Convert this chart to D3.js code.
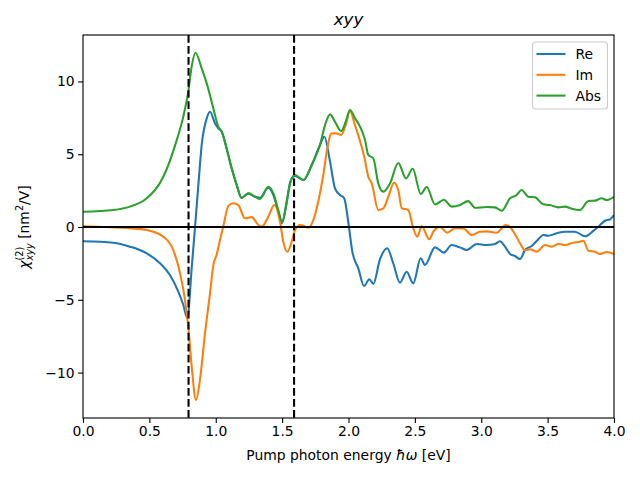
<!DOCTYPE html>
<html>
<head>
<meta charset="utf-8">
<script src="https://cdn.jsdelivr.net/npm/d3@7"></script>
<style>
  body { margin: 0; background: #fff; }
  svg { display: block; }
</style>
</head>
<body>
<div id="chart"></div>
<script>
// chi^(2)_xyy spectrum, values
const reEnergy = [0, 0.228, 0.354, 0.48, 0.58, 0.655, 0.718, 0.756, 0.786, 0.819, 0.844, 0.869, 0.894, 0.932, 0.957, 0.994, 1.019, 1.045, 1.082, 1.12, 1.158, 1.195, 1.245, 1.296, 1.333, 1.396, 1.434, 1.471, 1.497, 1.527, 1.559, 1.584, 1.597, 1.66, 1.723, 1.785, 1.818, 1.861, 1.898, 1.936, 1.968, 1.998, 2.029, 2.074, 2.117, 2.157, 2.187, 2.237, 2.292, 2.337, 2.388, 2.438, 2.488, 2.544, 2.576, 2.652, 2.719, 2.777, 2.84, 2.89, 2.966, 3.041, 3.104, 3.141, 3.179, 3.217, 3.254, 3.292, 3.33, 3.38, 3.43, 3.467, 3.505, 3.568, 3.631, 3.706, 3.782, 3.844, 3.895, 3.932, 3.97, 4.0];
const reValues = [-0.98, -1.08, -1.35, -1.81, -2.49, -3.3, -4.44, -5.36, -6.27, -2.8, 0.0, 2.88, 5.63, 7.47, 7.92, 7.12, 6.78, 6.55, 5.4, 4.03, 2.88, 2.0, 2.31, 2.08, 2.0, 2.7, 2.2, 1.05, 0.25, 1.28, 3.0, 3.45, 3.5, 3.23, 4.26, 5.63, 6.2, 4.49, 2.66, 2.2, 1.97, 0.36, -1.7, -2.84, -4.05, -3.59, -3.91, -2.22, -1.46, -2.49, -3.82, -3.07, -3.87, -2.15, -2.6, -1.4, -1.76, -1.24, -1.4, -1.58, -1.17, -1.24, -1.17, -0.98, -1.35, -1.85, -1.99, -2.2, -1.58, -1.3, -0.84, -0.55, -0.6, -0.43, -0.32, -0.32, -0.64, -0.27, 0.14, 0.43, 0.53, 0.82];

const imEnergy = [0, 0.354, 0.48, 0.605, 0.68, 0.731, 0.768, 0.793, 0.819, 0.851, 0.881, 0.919, 0.957, 0.982, 1.007, 1.032, 1.057, 1.095, 1.132, 1.17, 1.22, 1.271, 1.321, 1.346, 1.396, 1.441, 1.484, 1.509, 1.539, 1.572, 1.597, 1.635, 1.66, 1.697, 1.735, 1.772, 1.81, 1.836, 1.873, 1.911, 1.944, 1.979, 2.011, 2.049, 2.087, 2.124, 2.149, 2.175, 2.224, 2.262, 2.3, 2.343, 2.375, 2.401, 2.45, 2.488, 2.518, 2.551, 2.609, 2.639, 2.689, 2.744, 2.802, 2.865, 2.928, 2.991, 3.041, 3.116, 3.184, 3.217, 3.254, 3.292, 3.33, 3.367, 3.418, 3.48, 3.531, 3.581, 3.631, 3.693, 3.744, 3.769, 3.807, 3.857, 3.895, 3.945, 4.0];
const imValues = [0.05, -0.09, -0.2, -0.66, -1.58, -3.18, -5.0, -6.85, -9.6, -11.88, -10.5, -7.3, -4.55, -2.6, -1.9, -0.9, 0.05, 1.45, 1.63, 1.51, 0.6, 0.68, 0.14, 0.02, 0.71, 1.51, 0.36, -1.01, -1.7, -1.01, -0.2, 0.14, 0.09, -0.05, 0.48, 1.74, 3.57, 5.17, 6.43, 6.43, 6.32, 7.0, 7.97, 7.0, 5.9, 4.6, 3.45, 3.0, 1.17, 1.28, 2.08, 3.04, 2.54, 1.3, 1.17, -0.09, -0.66, 0.05, -0.84, -0.32, 0.0, -0.39, -0.09, -0.1, -0.55, -0.32, -0.3, -0.39, 0.14, 0.0, -0.5, -1.12, -1.6, -1.53, -1.7, -1.24, -1.35, -1.17, -1.24, -1.08, -1.01, -0.94, -1.63, -1.7, -1.85, -1.72, -1.85];

const absEnergy = [0, 0.228, 0.354, 0.48, 0.605, 0.706, 0.756, 0.793, 0.819, 0.847, 0.894, 0.932, 0.982, 1.019, 1.045, 1.082, 1.12, 1.158, 1.195, 1.245, 1.296, 1.333, 1.396, 1.434, 1.471, 1.501, 1.534, 1.567, 1.597, 1.66, 1.723, 1.785, 1.823, 1.861, 1.898, 1.944, 1.979, 2.011, 2.049, 2.087, 2.124, 2.149, 2.187, 2.224, 2.262, 2.313, 2.375, 2.433, 2.484, 2.544, 2.589, 2.652, 2.719, 2.777, 2.84, 2.902, 2.953, 3.041, 3.104, 3.154, 3.217, 3.267, 3.304, 3.355, 3.405, 3.467, 3.518, 3.581, 3.631, 3.681, 3.744, 3.807, 3.857, 3.907, 3.945, 4.0];
const absValues = [1.05, 1.17, 1.4, 1.97, 3.45, 5.97, 7.6, 9.3, 11.05, 11.97, 10.9, 9.87, 8.15, 6.89, 6.55, 5.4, 4.03, 2.88, 2.0, 2.31, 2.08, 1.92, 2.77, 2.31, 1.17, 0.32, 1.74, 3.23, 3.57, 3.23, 4.26, 5.63, 7.0, 7.74, 7.23, 6.59, 7.23, 8.04, 7.47, 6.9, 6.0, 4.95, 4.72, 3.0, 2.43, 3.0, 4.4, 3.34, 4.0, 2.27, 2.75, 1.55, 1.87, 1.4, 1.51, 1.78, 1.32, 1.37, 1.35, 1.12, 1.97, 2.2, 2.54, 2.08, 2.04, 1.56, 1.51, 1.35, 1.4, 1.26, 1.17, 1.79, 1.81, 1.97, 1.85, 2.08];

const seriesNames = ["Re", "Im", "Abs"];
const seriesColors = ["#1f77b4", "#ff7f0e", "#2ca02c"];
const xTicks = [0, 0.5, 1, 1.5, 2, 2.5, 3, 3.5, 4];
const yTicks = [-10, -5, 0, 5, 10];
const markerEnergies = [0.795, 1.59];

const width = 640;
const height = 480;
const margin = { top: 35, right: 26, bottom: 62, left: 83 };
const innerWidth = width - margin.left - margin.right;
const innerHeight = height - margin.top - margin.bottom;
const lw = 2.08; // 1.5pt at 100 dpi
const font = "DejaVu Sans, sans-serif";

const svg = d3.select("#chart")
  .append("svg")
  .attr("width", width)
  .attr("height", height)
  .attr("viewBox", [0, 0, width, height])
  .attr("font-family", font);

const x = d3.scaleLinear().domain([0, 4]).range([0, innerWidth]);
const y = d3.scaleLinear().domain([-13.12, 13.19]).range([innerHeight, 0]);

const group = svg.append("g")
  .attr("transform", `translate(${margin.left},${margin.top})`);

group.append("defs").append("clipPath").attr("id", "plot-clip")
  .append("rect").attr("width", innerWidth).attr("height", innerHeight);

const plot = group.append("g").attr("clip-path", "url(#plot-clip)");

const series = [
  { energy: reEnergy, values: reValues },
  { energy: imEnergy, values: imValues },
  { energy: absEnergy, values: absValues },
];

const line = d3.line()
  .x((d) => x(d[0]))
  .y((d) => y(d[1]))
  .curve(d3.curveMonotoneX);

series.forEach((s, i) => {
  plot.append("path")
    .datum(d3.zip(s.energy, s.values))
    .attr("fill", "none")
    .attr("stroke", seriesColors[i])
    .attr("stroke-width", lw)
    .attr("stroke-linejoin", "round")
    .attr("d", line);
});

// zero line and the two dashed markers
plot.append("line")
  .attr("x1", 0).attr("x2", innerWidth)
  .attr("y1", y(0)).attr("y2", y(0))
  .attr("stroke", "#000").attr("stroke-width", lw);

plot.selectAll(".marker")
  .data(markerEnergies)
  .join("line")
  .attr("class", "marker")
  .attr("x1", (d) => x(d)).attr("x2", (d) => x(d))
  .attr("y1", 0).attr("y2", innerHeight)
  .attr("stroke", "#000").attr("stroke-width", lw)
  .attr("stroke-dasharray", "7.7,3.33");

// axes
const xAxis = group.append("g")
  .attr("transform", `translate(0,${innerHeight})`)
  .call(d3.axisBottom(x).tickValues(xTicks).tickFormat(d3.format(".1f")).tickSizeOuter(0).tickSize(4.9).tickPadding(3.5));

const yAxis = group.append("g")
  .call(d3.axisLeft(y).tickValues(yTicks).tickFormat(d3.format("d")).tickSizeOuter(0).tickSize(4.9).tickPadding(3.5));

[xAxis, yAxis].forEach((a) => {
  a.attr("font-size", 13.9).attr("font-family", font);
  a.select(".domain").remove();
  a.selectAll(".tick line").attr("stroke", "#000").attr("stroke-width", 1.11);
  a.selectAll(".tick text").attr("fill", "#000");
});

group.append("rect")
  .attr("width", innerWidth).attr("height", innerHeight)
  .attr("fill", "none").attr("stroke", "#000").attr("stroke-width", 1.11);

// title
svg.append("text")
  .attr("x", margin.left + innerWidth / 2)
  .attr("y", 25)
  .attr("text-anchor", "middle")
  .attr("font-size", 16.7)
  .attr("font-style", "italic")
  .text("xyy");

// x label
const xLabel = svg.append("text")
  .attr("x", margin.left + innerWidth / 2)
  .attr("y", 460)
  .attr("text-anchor", "middle")
  .attr("font-size", 13.9);
xLabel.append("tspan").text("Pump photon energy ");
xLabel.append("tspan").attr("font-style", "italic").text("ħω");
xLabel.append("tspan").text(" [eV]");

// y label, built from pieces so sub/superscripts can stack
const yLabel = svg.append("g");
const pieces = [
  { t: "χ", size: 13.9, dy: 0, italic: true, advance: true, gap: 0 },
  { t: "(2)", size: 9.7, dy: -6.5, italic: false, advance: false, gap: 0 },
  { t: "xyy", size: 9.7, dy: 3.5, italic: true, advance: true, gap: 4.4 },
  { t: "[nm", size: 13.9, dy: 0, italic: false, advance: true, gap: 0 },
  { t: "2", size: 9.7, dy: -6, italic: false, advance: true, gap: 0 },
  { t: "/V]", size: 13.9, dy: 0, italic: false, advance: true, gap: 0 },
];
let cursor = 0;
pieces.forEach((p) => {
  const node = yLabel.append("text")
    .attr("x", cursor)
    .attr("y", p.dy)
    .attr("font-size", p.size)
    .attr("font-style", p.italic ? "italic" : "normal")
    .text(p.t);
  const w = node.node().getComputedTextLength();
  if (p.advance) cursor += w + p.gap;
});
yLabel.attr("transform", `translate(29,${margin.top + y(0) + cursor / 2}) rotate(-90)`);

// legend
const legend = svg.append("g").attr("transform", "translate(532.5,42)");
legend.append("rect")
  .attr("width", 75).attr("height", 67).attr("rx", 3)
  .attr("fill", "#fff").attr("fill-opacity", 0.8)
  .attr("stroke", "#cccccc").attr("stroke-width", 1.11);
seriesNames.forEach((name, i) => {
  const yy = 12 + i * 20.8;
  legend.append("line")
    .attr("x1", 4).attr("x2", 33)
    .attr("y1", yy).attr("y2", yy)
    .attr("stroke", seriesColors[i]).attr("stroke-width", lw);
  legend.append("text")
    .attr("x", 43).attr("y", yy + 5)
    .attr("font-size", 13.9)
    .text(name);
});
</script>
</body>
</html>
